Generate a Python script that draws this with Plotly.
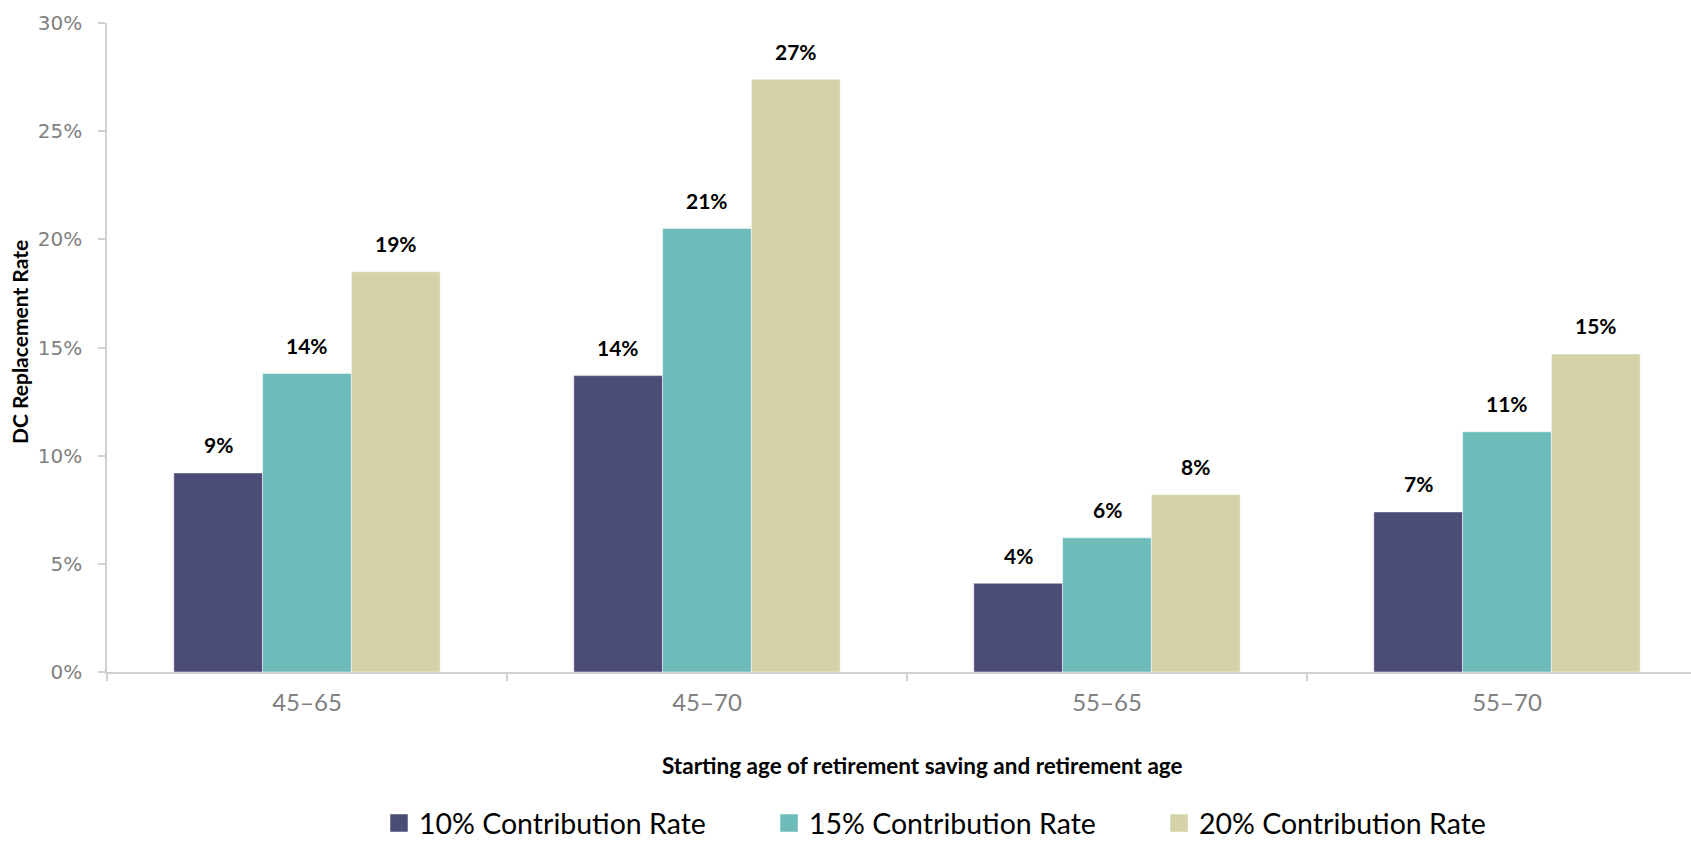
import plotly.graph_objects as go

# Replacement rates (%) by saving window and contribution rate
categories = ["45–65", "45–70", "55–65", "55–70"]
series_names = ["10% Contribution Rate", "15% Contribution Rate", "20% Contribution Rate"]
rate_10 = [9.2, 13.7, 4.1, 7.4]
rate_15 = [13.8, 20.5, 6.2, 11.1]
rate_20 = [18.5, 27.4, 8.2, 14.7]
colors = ["#4B4D78", "#6DBCB9", "#D5D2AA"]

series = [rate_10, rate_15, rate_20]
BARGAP = 0.334
AXIS_GREY = "#D0D0D0"
TICK_GREY = "#808080"

fig = go.Figure()

for name, vals, col in zip(series_names, series, colors):
    fig.add_trace(go.Bar(
        x=categories, y=vals, name=name,
        marker=dict(color=col, line=dict(color="rgba(255,255,255,0.6)", width=0.8)),
        showlegend=False, legendgroup=name, hoverinfo="skip",
    ))
    # legend proxy so the swatch can be a larger square
    fig.add_trace(go.Scatter(
        x=[None], y=[None], mode="markers", name=name, legendgroup=name,
        marker=dict(symbol="square", size=16, color=col, line=dict(color=col, width=1.5)),
    ))

# value labels above each bar, placed at the grouped-bar offsets
group_w = 1 - BARGAP
bar_w = group_w / len(series)
annotations = []
for i, vals in enumerate(series):
    off = -group_w / 2 + bar_w * (i + 0.5)
    for j, v in enumerate(vals):
        annotations.append(dict(
            x=j + off, y=v, xref="x", yref="y",
            text=f"<b>{int(v + 0.5)}%</b>", showarrow=False,
            yanchor="middle", yshift=28,
            font=dict(family="Lato", size=21, color="#000000"),
        ))

annotations.append(dict(
    x=(922 - 107) / 1584, y=(672 - 765) / 649, xref="paper", yref="paper",
    text="<b>Starting age of retirement saving and retirement age</b>",
    showarrow=False, xanchor="center", yanchor="middle",
    font=dict(family="Lato", size=22.5, color="#000000"),
))
annotations.append(dict(
    x=(19 - 107) / 1584, y=(672 - 342) / 649, xref="paper", yref="paper",
    text="<b>DC Replacement Rate</b>", textangle=-90,
    showarrow=False, xanchor="center", yanchor="middle",
    font=dict(family="Lato", size=21, color="#000000"),
))

fig.update_layout(
    width=1691, height=842,
    margin=dict(l=107, r=0, t=23, b=170),
    paper_bgcolor="white", plot_bgcolor="white",
    barmode="group", bargap=BARGAP, bargroupgap=0,
    annotations=annotations,
    legend=dict(
        orientation="h", x=(389 - 107 - 10) / 1584, xanchor="left",
        yref="container", y=0.022, yanchor="middle",
        font=dict(family="Lato", size=28.5, color="#000000"),
        entrywidth=345, entrywidthmode="pixels",
        itemsizing="trace",
    ),
    xaxis=dict(
        range=[-0.5, -0.5 + 1584 / 400],
        showline=True, linecolor=AXIS_GREY, linewidth=1.5,
        ticks="outside", tickson="boundaries", ticklen=7, tickcolor=AXIS_GREY, tickwidth=1.5,
        ticklabelstandoff=8,
        tickfont=dict(family="Lato", size=24, color=TICK_GREY),
        showgrid=False, zeroline=False,
    ),
    yaxis=dict(
        range=[0, 30], dtick=5, ticksuffix="%",
        showline=True, linecolor=AXIS_GREY, linewidth=1.5,
        ticks="outside", ticklen=7, tickcolor=AXIS_GREY, tickwidth=1.5,
        ticklabelstandoff=12,
        tickfont=dict(family="DejaVu Sans", size=20, color=TICK_GREY),
        showgrid=False, zeroline=False,
    ),
)

fig.write_html("out.html")
